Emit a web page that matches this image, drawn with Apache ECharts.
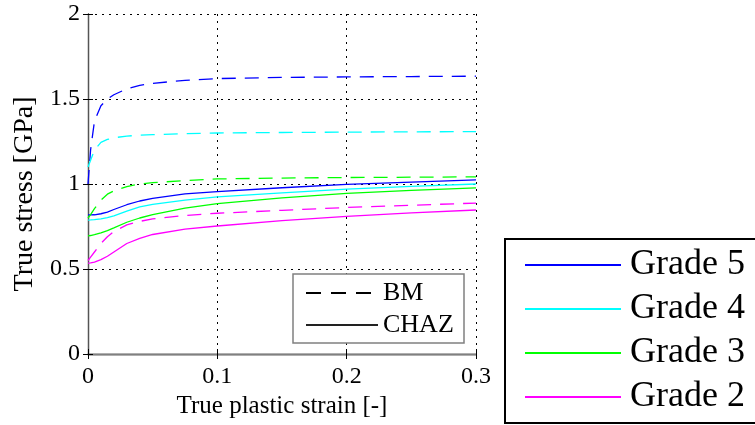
<!DOCTYPE html>
<html><head><meta charset="utf-8">
<script src="https://cdn.jsdelivr.net/npm/echarts@6/dist/echarts.min.js"></script>
<style>html,body{margin:0;padding:0;background:#fff}#c{width:755px;height:425px}</style>
</head><body><div id="c"></div>
<script>
// ---- data ----
const strain = [0, 0.002, 0.005, 0.01, 0.015, 0.02, 0.03, 0.04, 0.05, 0.075, 0.1, 0.15, 0.2, 0.25, 0.3];
const grades = ['Grade 5', 'Grade 4', 'Grade 3', 'Grade 2'];
const bmGrade5 = [1.0, 1.2, 1.37, 1.46, 1.5, 1.525, 1.56, 1.58, 1.592, 1.61, 1.62, 1.627, 1.63, 1.632, 1.634];
const bmGrade4 = [1.1, 1.14, 1.2, 1.245, 1.262, 1.272, 1.282, 1.287, 1.29, 1.296, 1.3, 1.303, 1.305, 1.307, 1.308];
const bmGrade3 = [0.8, 0.82, 0.855, 0.905, 0.94, 0.96, 0.985, 1.0, 1.008, 1.02, 1.03, 1.035, 1.038, 1.04, 1.042];
const bmGrade2 = [0.55, 0.57, 0.6, 0.65, 0.69, 0.72, 0.76, 0.78, 0.795, 0.815, 0.828, 0.845, 0.862, 0.875, 0.888];
const chazGrade5 = [0.818, 0.818, 0.819, 0.825, 0.835, 0.85, 0.878, 0.9, 0.915, 0.942, 0.955, 0.978, 0.998, 1.011, 1.024];
const chazGrade4 = [0.788, 0.789, 0.791, 0.795, 0.802, 0.812, 0.84, 0.865, 0.88, 0.905, 0.924, 0.948, 0.97, 0.986, 1.0];
const chazGrade3 = [0.695, 0.697, 0.702, 0.712, 0.726, 0.742, 0.775, 0.8, 0.82, 0.858, 0.885, 0.918, 0.945, 0.962, 0.977];
const chazGrade2 = [0.535, 0.536, 0.541, 0.555, 0.575, 0.6, 0.65, 0.68, 0.703, 0.735, 0.753, 0.785, 0.81, 0.83, 0.847];
const xTicks = [0, 0.1, 0.2, 0.3];
const yTicks = [0, 0.5, 1, 1.5, 2];
const materialLabels = ['BM', 'CHAZ'];

// ---- styles ----
const colors = ['#0000ff', '#00ffff', '#00ff00', '#ff00ff'];
const FONT = '"Liberation Serif", "DejaVu Serif", serif';
const bmSets = [bmGrade5, bmGrade4, bmGrade3, bmGrade2];
const chazSets = [chazGrade5, chazGrade4, chazGrade3, chazGrade2];
const pair = arr => strain.map((x, i) => [x, arr[i]]);

const series = [];
grades.forEach((g, i) => {
  series.push({
    name: g + ' BM', type: 'line', data: pair(bmSets[i]), symbol: 'none', silent: true,
    color: colors[i], lineStyle: { color: colors[i], width: 1.3, type: [14, 9] }, z: 2
  });
  series.push({
    name: g, type: 'line', data: pair(chazSets[i]), symbol: 'none', silent: true,
    color: colors[i], lineStyle: { color: colors[i], width: 1.3 }, z: 2
  });
});
series.push({ name: materialLabels[0], type: 'line', data: [], symbol: 'none', color: '#000',
  lineStyle: { color: '#000', width: 1, type: [15, 10] } });
series.push({ name: materialLabels[1], type: 'line', data: [], symbol: 'none', color: '#222',
  lineStyle: { color: '#222', width: 1 } });

const common = {
  type: 'value',
  axisTick: { show: true, inside: true, length: 5, lineStyle: { color: '#000' } },
};

const option = {
  animation: false,
  backgroundColor: '#fff',
  grid: { left: 88, right: 279, top: 14, bottom: 71, containLabel: false },
  xAxis: [
    Object.assign({}, common, {
      position: 'bottom', min: xTicks[0], max: xTicks[xTicks.length - 1], interval: xTicks[1] - xTicks[0],
      axisLine: { lineStyle: { color: '#000', width: 1.3 } },
      axisLabel: { fontFamily: FONT, fontSize: 24, color: '#000', margin: 11 },
      splitLine: { show: true, lineStyle: { color: '#000', width: 1, type: [2, 5] } },
      name: 'True plastic strain [-]', nameLocation: 'middle', nameGap: 40,
      nameTextStyle: { fontFamily: FONT, fontSize: 25, color: '#000' }
    }),
    Object.assign({}, common, {
      position: 'top', min: xTicks[0], max: xTicks[xTicks.length - 1], interval: xTicks[1] - xTicks[0],
      axisLine: { lineStyle: { color: '#808080', width: 1.3 } },
      axisLabel: { show: false }, splitLine: { show: false }
    })
  ],
  yAxis: [
    Object.assign({}, common, {
      position: 'left', min: yTicks[0], max: yTicks[yTicks.length - 1], interval: yTicks[1] - yTicks[0],
      axisLine: { show: true, lineStyle: { color: '#808080', width: 1.3 } },
      axisLabel: { fontFamily: FONT, fontSize: 24, color: '#000', margin: 8 },
      splitLine: { show: true, lineStyle: { color: '#000', width: 1, type: [2, 5] } },
      name: 'True stress [GPa]', nameLocation: 'middle', nameGap: 48,
      nameTextStyle: { fontFamily: FONT, fontSize: 28, color: '#000', padding: [0, 20, 0, 0] }
    }),
    Object.assign({}, common, {
      position: 'right', min: yTicks[0], max: yTicks[yTicks.length - 1], interval: yTicks[1] - yTicks[0],
      axisLine: { show: true, lineStyle: { color: '#555', width: 1.3 } },
      axisLabel: { show: false }, splitLine: { show: false }
    })
  ],
  graphic: [
    { type: 'rect', shape: { x: 293, y: 274, width: 171, height: 69 }, z: 3,
      style: { fill: '#fff', stroke: '#808080', lineWidth: 1.5 } },
    { type: 'rect', shape: { x: 505, y: 239, width: 270, height: 184 }, z: 3,
      style: { fill: '#fff', stroke: '#000', lineWidth: 2 } }
  ],
  legend: [
    { data: materialLabels, orient: 'vertical', left: 305, top: 277, itemWidth: 72, itemHeight: 14,
      itemGap: 0, selectedMode: false, z: 5, padding: 0,
      itemStyle: { opacity: 0 },
      textStyle: { fontFamily: FONT, fontSize: 26, color: '#000', lineHeight: 32 } },
    { data: grades, orient: 'vertical', left: 524, top: 243, itemWidth: 96, itemHeight: 14,
      itemGap: 0, selectedMode: false, z: 5, padding: 0,
      itemStyle: { opacity: 0 },
      lineStyle: { width: 2 },
      textStyle: { fontFamily: FONT, fontSize: 36, color: '#000', lineHeight: 44, padding: [0, 0, 0, 4] } }
  ],
  series: series
};
const chart = echarts.init(document.getElementById('c'), null, { renderer: 'canvas' });
chart.setOption(option);
</script>
</body></html>
